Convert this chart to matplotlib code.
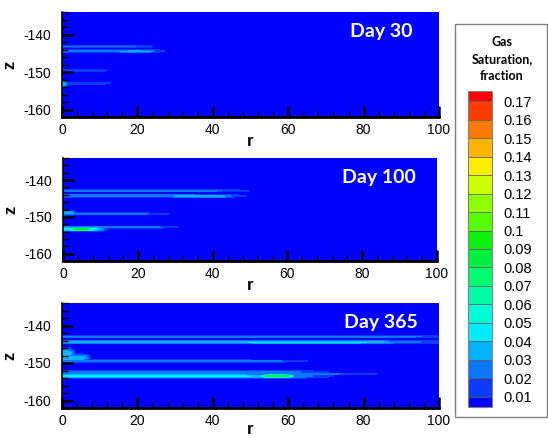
import numpy as np
import matplotlib
matplotlib.use("Agg")
import matplotlib.pyplot as plt
from matplotlib.colors import ListedColormap, BoundaryNorm
from matplotlib.ticker import MultipleLocator

plt.rcParams["font.family"] = ["Liberation Sans", "DejaVu Sans"]
plt.rcParams["axes.unicode_minus"] = False  # "-140" with a plain hyphen

day_labels = ["Day 30", "Day 100", "Day 365"]

# gas streaks, one entry per streak:
# centre depth z, half thickness, start r, end r, saturation
day30_z = [-143.2, -144.4, -144.5, -149.6, -153.0, -153.2]
day30_dz = [0.35, 0.45, 0.3, 0.3, 0.3, 0.7]
day30_r0 = [0, 0, 14, 0, 0, 0]
day30_r1 = [24, 26, 25, 12, 13, 1.2]
day30_sat = [0.022, 0.028, 0.034, 0.02, 0.02, 0.045]

day100_z = [-142.9, -144.3, -144.4, -149.2, -148.9, -152.8, -153.3, -153.4]
day100_dz = [0.35, 0.45, 0.35, 0.3, 0.6, 0.3, 0.6, 0.35]
day100_r0 = [0, 0, 28, 0, 0, 0, 0, 2]
day100_r1 = [48.6, 46.8, 45, 28, 3, 30, 11, 8]
day100_sat = [0.024, 0.028, 0.038, 0.022, 0.04, 0.024, 0.045, 0.095]

day365_z = [-143.0, -144.4, -144.5, -147.4, -148.6, -149.5, -152.4, -153.5, -152.9, -153.5]
day365_dz = [0.3, 0.45, 0.3, 1.3, 0.9, 0.3, 0.4, 0.55, 0.25, 0.35]
day365_r0 = [0, 0, 40, 0, 0, 0, 0, 0, 0, 53]
day365_r1 = [101, 97, 90, 3, 7, 62, 67, 66, 80, 61]
day365_sat = [0.03, 0.036, 0.044, 0.04, 0.038, 0.03, 0.03, 0.042, 0.028, 0.09]

levels = [0.01, 0.02, 0.03, 0.04, 0.05, 0.06, 0.07, 0.08, 0.09,
          0.10, 0.11, 0.12, 0.13, 0.14, 0.15, 0.16, 0.17]
band_colors = ["#0a3cff", "#0a78ff", "#00b4ff", "#00ebff", "#00ffd8", "#00ffa8",
               "#00ff70", "#00f040", "#10f010", "#55ff00", "#90ff00", "#ccff00",
               "#ffee00", "#ffb400", "#ff7800", "#ff3c00"]
under_color = "#0000ff"
over_color = "#ff0000"

streaks = [
    (day30_z, day30_dz, day30_r0, day30_r1, day30_sat),
    (day100_z, day100_dz, day100_r0, day100_r1, day100_sat),
    (day365_z, day365_dz, day365_r0, day365_r1, day365_sat),
]

cmap = ListedColormap(band_colors)
cmap.set_under(under_color)
cmap.set_over(over_color)
norm = BoundaryNorm(levels, cmap.N)

r = np.linspace(0, 100, 501)
z = np.linspace(-162, -134, 561)
R, Z = np.meshgrid(r, z)


def build_field(zc, dz, r0, r1, sat):
    field = np.zeros_like(R)
    for zi, dzi, a, b, s in zip(zc, dz, r0, r1, sat):
        edge = max(0.08 * (b - a), 0.5)
        along = 1.0 / (1.0 + np.exp((R - b) / edge))
        if a > 0:
            along = along / (1.0 + np.exp(-(R - a) / edge))
        across = np.exp(-((Z - zi) / dzi) ** 2)
        field = np.maximum(field, s * along * across)
    return field


fig = plt.figure(figsize=(5.48, 4.38), dpi=100)

# panel boxes in pixels: left, top, right, bottom
panel_px = [(62, 12, 439, 117), (63, 158, 437, 261), (62, 303, 439, 408)]
W, H = 548.0, 438.0

for i in range(3):
    x0, y0, x1, y1 = panel_px[i]
    ax = fig.add_axes([x0 / W, 1 - y1 / H, (x1 - x0) / W, (y1 - y0) / H])
    field = build_field(*streaks[i])
    cs = ax.contourf(R, Z, field, levels=levels, cmap=cmap, norm=norm, extend="both")
    ax.set_xlim(0, 100)
    ax.set_ylim(-162, -134)
    ax.set_xticks([0, 20, 40, 60, 80, 100])
    ax.set_yticks([-140, -150, -160])
    ax.xaxis.set_minor_locator(MultipleLocator(4))
    ax.yaxis.set_minor_locator(MultipleLocator(2))
    ax.tick_params(which="major", direction="in", length=8, width=1.8, labelsize=10, pad=4)
    ax.tick_params(which="minor", direction="in", length=4, width=1)
    ax.tick_params(axis="y", which="major", pad=8)
    ax.spines["top"].set_visible(False)
    ax.spines["right"].set_visible(False)
    ax.spines["bottom"].set_linewidth(2)
    ax.spines["left"].set_linewidth(1.2)
    # bottom panel: keep the r label inside the picture
    ax.set_xlabel("r", fontsize=12, fontweight="bold", labelpad=-2 if i < 2 else -4)
    ax.set_ylabel("z", fontsize=12, fontweight="bold", labelpad=4)
    ax.text(0.846, 0.81, day_labels[i], transform=ax.transAxes, color="white",
            fontsize=14, fontweight="bold", family=["Lato", "DejaVu Sans"],
            ha="center", va="center")

# legend frame
fig.add_artist(plt.Rectangle((455 / W, 1 - 417 / H), 92 / W, 393 / H,
                             transform=fig.transFigure, fill=False,
                             edgecolor="#808080", lw=1))
fig.text(502 / W, 1 - 59 / H, "Gas\nSaturation,\nfraction", ha="center", va="center",
         fontsize=9, fontweight="bold", family=["Lato", "DejaVu Sans"], linespacing=1.45)

cax = fig.add_axes([468 / W, 1 - 407 / H, 24 / W, 316 / H])
cb = fig.colorbar(cs, cax=cax, extend="both", extendrect=True, extendfrac=0.034,
                  drawedges=True, ticks=levels)
cb.ax.set_yticklabels(["%g" % v for v in levels])
cb.ax.tick_params(length=0, labelsize=10.5, pad=8)
cb.outline.set_edgecolor("#808080")
cb.dividers.set_color("#606060")
cb.dividers.set_linewidth(0.6)

fig.savefig("out.png", dpi=100)
